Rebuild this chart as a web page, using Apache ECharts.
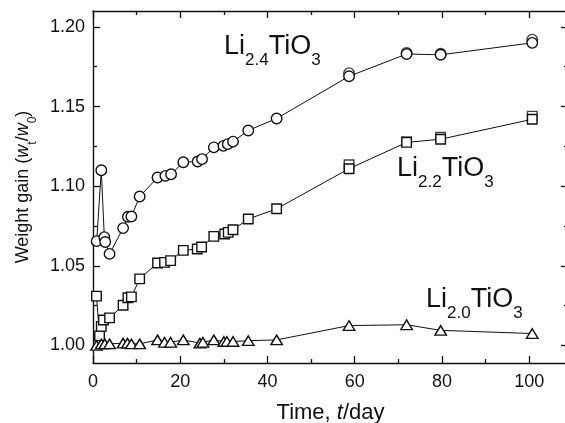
<!DOCTYPE html>
<html>
<head>
<meta charset="utf-8">
<title>Weight gain of Li2TiO3</title>
<script src="https://cdn.jsdelivr.net/npm/echarts@6/dist/echarts.min.js"></script>
<style>
  html, body { margin: 0; padding: 0; background: #fff; }
  #chart { width: 565px; height: 423px; }
</style>
</head>
<body>
<div id="chart"></div>
<script>
// days of exposure and weight gain w_t/w_0
var li24Days = [0.85, 1.9, 2.6, 2.8, 3.8, 6.9, 8.0, 8.8, 10.7, 14.8, 16.6, 17.9, 20.7, 24.0, 25.0, 27.7, 29.9, 30.9, 32.1, 35.6, 42.1, 58.7, 71.9, 79.7, 100.7];
var li24Gain = [1.0655, 1.110, 1.068, 1.065, 1.0575, 1.0737, 1.0808, 1.081, 1.0935, 1.1055, 1.1065, 1.1075, 1.115, 1.1155, 1.117, 1.1244, 1.1253, 1.1264, 1.128, 1.135, 1.1425, 1.169, 1.183, 1.1825, 1.190];

var li22Days = [0.8, 1.5, 1.9, 2.4, 3.8, 6.9, 8.0, 8.8, 10.7, 14.8, 16.4, 17.8, 20.7, 23.9, 24.9, 27.7, 30.2, 31.0, 32.1, 35.6, 42.1, 58.7, 71.9, 79.7, 100.7];
var li22Gain = [1.031, 1.006, 1.012, 1.016, 1.0173, 1.0253, 1.030, 1.0305, 1.0418, 1.0518, 1.0522, 1.0533, 1.0597, 1.0606, 1.0618, 1.0685, 1.070, 1.071, 1.0727, 1.0794, 1.0858, 1.111, 1.1275, 1.1295, 1.142];

var li20Days = [0.8, 1.9, 2.7, 3.8, 6.9, 7.9, 8.8, 10.7, 14.8, 16.4, 17.8, 20.7, 24.5, 25.2, 27.7, 30.0, 30.7, 32.1, 35.6, 42.1, 58.7, 71.9, 79.7, 100.7];
var li20Gain = [1.000, 1.001, 1.001, 1.001, 1.0015, 1.0015, 1.001, 1.001, 1.0035, 1.002, 1.002, 1.0035, 1.0015, 1.002, 1.0035, 1.0025, 1.0025, 1.0025, 1.003, 1.0035, 1.0125, 1.013, 1.0095, 1.0075];

// second (overlapping) samples at the long exposures
var dupDays = [58.7, 71.9, 79.7, 100.7];
var li24Dup = [1.171, 1.1837, 1.1832, 1.192];
var li22Dup = [1.1135, 1.128, 1.1307, 1.144];

var xTicks = [0, 20, 40, 60, 80, 100];
var xMinor = [10, 30, 50, 70, 90];
var yTicks = [1.00, 1.05, 1.10, 1.15, 1.20];
var yMinor = [1.025, 1.075, 1.125, 1.175];

var xMin = 0, xMax = 108.9;
var yMin = 0.989, yMax = 1.21;

var FONT = "'Liberation Sans', Arial, Helvetica, sans-serif";
var INK = '#111';

function pairs(xs, ys) {
    return xs.map(function (x, i) { return [x, ys[i]]; });
}

function frameAxis(pos, ticks, len, withLine) {
    var vertical = pos === 'left' || pos === 'right';
    return {
        type: 'value',
        position: pos,
        min: vertical ? yMin : xMin,
        max: vertical ? yMax : xMax,
        axisLine: { show: withLine, onZero: false, lineStyle: { color: INK, width: 1.4 } },
        axisTick: { show: true, inside: true, length: len, customValues: ticks, lineStyle: { color: INK, width: 1.3 } },
        axisLabel: { show: false },
        splitLine: { show: false }
    };
}

var chart = echarts.init(document.getElementById('chart'));

var markerStyle = { color: '#fff', borderColor: INK, borderWidth: 1.4 };

var option = {
    animation: false,
    backgroundColor: '#fff',
    grid: { left: 93, right: -3, top: 11, bottom: 60, outerBoundsMode: 'none' },
    xAxis: [
        {
            type: 'value',
            position: 'bottom',
            min: xMin,
            max: xMax,
            name: '{n|Time, }{i|t}{n|/day}',
            nameLocation: 'middle',
            nameGap: 39,
            nameTextStyle: {
                color: INK,
                fontFamily: FONT,
                fontSize: 22,
                rich: {
                    n: { fontSize: 22, fontFamily: FONT, color: INK },
                    i: { fontSize: 22, fontFamily: FONT, color: INK, fontStyle: 'italic' }
                }
            },
            axisLine: { show: true, onZero: false, lineStyle: { color: INK, width: 1.4 } },
            axisTick: { show: true, inside: true, length: 7, customValues: xTicks, lineStyle: { color: INK, width: 1.3 } },
            axisLabel: { customValues: xTicks, color: INK, fontFamily: FONT, fontSize: 18, margin: 10 },
            splitLine: { show: false }
        },
        frameAxis('bottom', xMinor, 4, false),
        frameAxis('top', xTicks, 7, true),
        frameAxis('top', xMinor, 4, false)
    ],
    yAxis: [
        {
            type: 'value',
            position: 'left',
            min: yMin,
            max: yMax,
            name: '{n|Weight gain (}{i|w}{s|t}{n|/}{i|w}{s|0}{n|)}',
            nameLocation: 'middle',
            nameGap: 53,
            nameTextStyle: {
                color: INK,
                fontFamily: FONT,
                fontSize: 18,
                rich: {
                    n: { fontSize: 18, lineHeight: 18, verticalAlign: 'top', fontFamily: FONT, color: INK },
                    i: { fontSize: 18, lineHeight: 18, verticalAlign: 'top', fontFamily: FONT, color: INK, fontStyle: 'italic' },
                    s: { fontSize: 12, lineHeight: 25, verticalAlign: 'bottom', fontFamily: FONT, color: INK }
                }
            },
            axisLine: { show: true, onZero: false, lineStyle: { color: INK, width: 1.4 } },
            axisTick: { show: true, inside: true, length: 7, customValues: yTicks, lineStyle: { color: INK, width: 1.3 } },
            axisLabel: {
                customValues: yTicks,
                color: INK,
                fontFamily: FONT,
                fontSize: 18,
                margin: 8,
                formatter: function (v) { return v.toFixed(2); }
            },
            splitLine: { show: false }
        },
        frameAxis('left', yMinor, 4, false),
        frameAxis('right', yTicks, 7, true),
        frameAxis('right', yMinor, 4, false)
    ],
    graphic: [
        label(224, 33, '2.4'),
        label(397, 155, '2.2'),
        label(426, 286, '2.0')
    ],
    series: [
        dupSeries('circle', 10.5, pairs(dupDays, li24Dup)),
        dupSeries('rect', 9.5, pairs(dupDays, li22Dup)),
        {
            name: 'Li2.4TiO3',
            type: 'line',
            data: pairs(li24Days, li24Gain),
            symbol: 'circle',
            symbolSize: 10.5,
            showAllSymbol: true,
            itemStyle: markerStyle,
            lineStyle: { color: INK, width: 1 },
            emphasis: { disabled: true }
        },
        {
            name: 'Li2.2TiO3',
            type: 'line',
            data: pairs(li22Days, li22Gain),
            symbol: 'rect',
            symbolSize: 9.5,
            showAllSymbol: true,
            itemStyle: markerStyle,
            lineStyle: { color: INK, width: 1 },
            emphasis: { disabled: true }
        },
        {
            name: 'Li2.0TiO3',
            type: 'line',
            data: pairs(li20Days, li20Gain),
            symbol: 'triangle',
            symbolSize: [11.5, 9.5],
            showAllSymbol: true,
            itemStyle: markerStyle,
            lineStyle: { color: INK, width: 1 },
            emphasis: { disabled: true }
        }
    ]
};

function dupSeries(symbol, size, data) {
    return {
        type: 'scatter',
        data: data,
        symbol: symbol,
        symbolSize: size,
        itemStyle: markerStyle,
        emphasis: { disabled: true },
        silent: true
    };
}

// composition label, e.g. Li_{2.4}TiO_3
function label(x, y, sub) {
    return {
        type: 'text',
        x: x,
        y: y,
        silent: true,
        style: {
            text: '{m|Li}{s|' + sub + '}{m|TiO}{s|3}',
            fill: INK,
            verticalAlign: 'top',
            rich: {
                m: { fontSize: 27, lineHeight: 27, verticalAlign: 'top', fontFamily: FONT, fill: INK },
                s: { fontSize: 17, lineHeight: 36, verticalAlign: 'bottom', fontFamily: FONT, fill: INK }
            }
        }
    };
}

chart.setOption(option);
</script>
</body>
</html>
